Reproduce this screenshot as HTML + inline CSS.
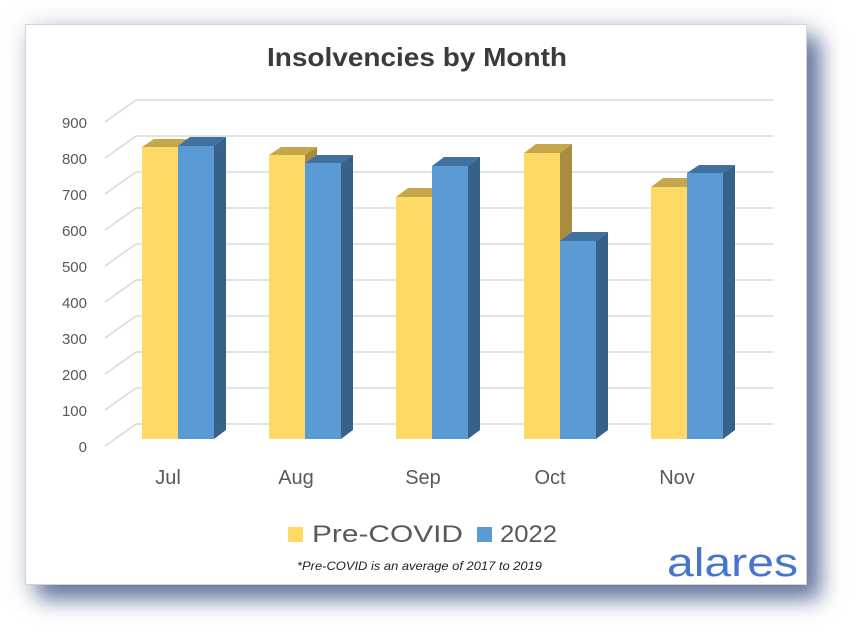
<!DOCTYPE html>
<html><head><meta charset="utf-8"><style>
html,body{margin:0;padding:0;background:#fff;}
body{width:858px;height:635px;overflow:hidden;position:relative;}
.card{position:absolute;left:25px;top:24px;width:780px;height:559px;background:#fff;border:1px solid #d4d4d4;
box-shadow:13px 14px 20px rgba(70,90,140,0.8),3px 3px 24px rgba(120,135,170,0.35);}
svg{position:absolute;left:0;top:0;}
</style></head><body>
<div class="card"></div>
<svg width="858" height="635" viewBox="0 0 858 635" xmlns="http://www.w3.org/2000/svg">
<g stroke="#d9d9d9" stroke-width="1.5" fill="none">
<line x1="136" y1="100" x2="773" y2="100"/><line x1="136" y1="100" x2="105" y2="122"/>
<line x1="136" y1="136" x2="773" y2="136"/><line x1="136" y1="136" x2="105" y2="158"/>
<line x1="136" y1="172" x2="773" y2="172"/><line x1="136" y1="172" x2="105" y2="194"/>
<line x1="136" y1="208" x2="773" y2="208"/><line x1="136" y1="208" x2="105" y2="230"/>
<line x1="136" y1="244" x2="773" y2="244"/><line x1="136" y1="244" x2="105" y2="266"/>
<line x1="136" y1="280" x2="773" y2="280"/><line x1="136" y1="280" x2="105" y2="302"/>
<line x1="136" y1="316" x2="773" y2="316"/><line x1="136" y1="316" x2="105" y2="338"/>
<line x1="136" y1="352" x2="773" y2="352"/><line x1="136" y1="352" x2="105" y2="374"/>
<line x1="136" y1="388" x2="773" y2="388"/><line x1="136" y1="388" x2="105" y2="410"/>
<line x1="136" y1="424" x2="773" y2="424"/><line x1="136" y1="424" x2="105" y2="446"/>
</g>
<g font-family="Liberation Sans, sans-serif" font-size="15" fill="#595959" text-anchor="end">
<text x="87" y="128">900</text><text x="87" y="164">800</text><text x="87" y="200">700</text>
<text x="87" y="236">600</text><text x="87" y="272">500</text><text x="87" y="308">400</text>
<text x="87" y="344">300</text><text x="87" y="380">200</text><text x="87" y="416">100</text>
<text x="87" y="452">0</text>
</g>
<g>
<polygon points="142,147 154,139 190,139 178,147" fill="#C5A74B"/>
<polygon points="178,147 190,139 190,430 178,439" fill="#A68B40"/>
<rect x="142" y="147" width="36" height="292" fill="#FED966"/>
<polygon points="178,146 190,137 226,137 214,146" fill="#41729F"/>
<polygon points="214,146 226,137 226,430 214,439" fill="#376187"/>
<rect x="178" y="146" width="36" height="293" fill="#5B9BD5"/>
<polygon points="269,155 281,147 317,147 305,155" fill="#C5A74B"/>
<polygon points="305,155 317,147 317,430 305,439" fill="#A68B40"/>
<rect x="269" y="155" width="36" height="284" fill="#FED966"/>
<polygon points="305,163 317,155 353,155 341,163" fill="#41729F"/>
<polygon points="341,163 353,155 353,430 341,439" fill="#376187"/>
<rect x="305" y="163" width="36" height="276" fill="#5B9BD5"/>
<polygon points="396,197 408,188 444,188 432,197" fill="#C5A74B"/>
<polygon points="432,197 444,188 444,430 432,439" fill="#A68B40"/>
<rect x="396" y="197" width="36" height="242" fill="#FED966"/>
<polygon points="432,166 444,157 480,157 468,166" fill="#41729F"/>
<polygon points="468,166 480,157 480,430 468,439" fill="#376187"/>
<rect x="432" y="166" width="36" height="273" fill="#5B9BD5"/>
<polygon points="524,153 536,144 572,144 560,153" fill="#C5A74B"/>
<polygon points="560,153 572,144 572,430 560,439" fill="#A68B40"/>
<rect x="524" y="153" width="36" height="286" fill="#FED966"/>
<polygon points="560,241 572,232 608,232 596,241" fill="#41729F"/>
<polygon points="596,241 608,232 608,430 596,439" fill="#376187"/>
<rect x="560" y="241" width="36" height="198" fill="#5B9BD5"/>
<polygon points="651,187 663,178 699,178 687,187" fill="#C5A74B"/>
<polygon points="687,187 699,178 699,430 687,439" fill="#A68B40"/>
<rect x="651" y="187" width="36" height="252" fill="#FED966"/>
<polygon points="687,173 699,165 735,165 723,173" fill="#41729F"/>
<polygon points="723,173 735,165 735,430 723,439" fill="#376187"/>
<rect x="687" y="173" width="36" height="266" fill="#5B9BD5"/>
</g>
<g font-family="Liberation Sans, sans-serif" font-size="20" fill="#595959" text-anchor="middle">
<text x="168" y="484">Jul</text><text x="296" y="484">Aug</text><text x="423" y="484">Sep</text>
<text x="550" y="484">Oct</text><text x="677" y="484">Nov</text>
</g>
<text x="267" y="66" font-family="Liberation Sans, sans-serif" font-size="26" font-weight="bold" fill="#3b3b3b" textLength="300" lengthAdjust="spacingAndGlyphs">Insolvencies by Month</text>
<rect x="288" y="527" width="15" height="15" fill="#FED966"/>
<text x="312" y="542" font-family="Liberation Sans, sans-serif" font-size="24" fill="#595959" textLength="151" lengthAdjust="spacingAndGlyphs">Pre-COVID</text>
<rect x="477" y="527" width="15" height="15" fill="#5B9BD5"/>
<text x="500" y="542" font-family="Liberation Sans, sans-serif" font-size="24" fill="#595959" textLength="57" lengthAdjust="spacingAndGlyphs">2022</text>
<text x="297" y="570" font-family="Liberation Sans, sans-serif" font-size="12" font-style="italic" fill="#222" textLength="245" lengthAdjust="spacingAndGlyphs">*Pre-COVID is an average of 2017 to 2019</text>
<text x="667" y="576" font-family="Liberation Sans, sans-serif" font-size="40" fill="#4675CF" textLength="131" lengthAdjust="spacingAndGlyphs">alares</text>
</svg>
</body></html>
